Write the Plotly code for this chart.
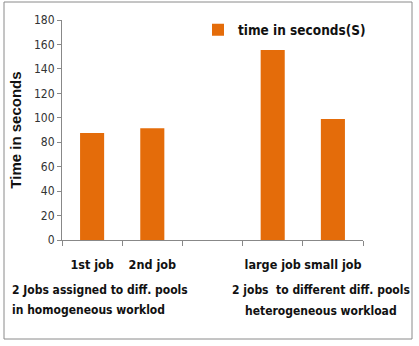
import plotly.graph_objects as go

categories = ["1st job", "2nd job", " ", "large job", "small job"]
times = [87.5, 91.5, None, 155.5, 99]
series_name = "time in seconds(S)"
y_ticks = [0, 20, 40, 60, 80, 100, 120, 140, 160, 180]
left_note = ["2 Jobs assigned to diff. pools", "in homogeneous worklod"]
right_note = ["2 jobs  to different diff. pools", "heterogeneous workload"]

W, H = 419, 346
L, R, T, B = 62, 56, 20, 106
pw, ph = W - L - R, H - T - B

def px_x(px):
    return (px - L) / pw

def px_y(py):
    return (H - B - py) / ph

fig = go.Figure()
fig.add_trace(go.Bar(
    x=categories, y=times, name=series_name,
    marker=dict(color="#E46C0A", line=dict(width=0)),
    width=0.4, showlegend=True,
))

cond = "DejaVu Sans Condensed, Liberation Sans Narrow, Arial Narrow, sans-serif"

fig.update_layout(
    width=W, height=H,
    margin=dict(l=L, r=R, t=T, b=B),
    paper_bgcolor="white", plot_bgcolor="white",
    showlegend=True,
    legend=dict(
        x=px_x(198), y=px_y(30), xanchor="left", yanchor="middle",
        font=dict(family=cond, size=13.5, color="#111", weight="bold"),
        bgcolor="rgba(0,0,0,0)", itemwidth=30,
    ),
    xaxis=dict(
        type="category", categoryorder="array", categoryarray=categories,
        showline=True, linecolor="#888", linewidth=1,
        ticks="outside", ticklen=5, tickcolor="#888", tickson="boundaries",
        tickangle=0, ticklabelstandoff=13,
        tickfont=dict(family=cond, size=12.5, color="#111", weight="bold"),
        showgrid=False, fixedrange=True,
    ),
    yaxis=dict(
        range=[0, 180], tickvals=y_ticks,
        showline=True, linecolor="#888", linewidth=1,
        ticks="outside", ticklen=4, tickcolor="#888",
        tickfont=dict(family="DejaVu Sans Condensed, Tahoma, Arial", size=12, color="#333"),
        showgrid=False, zeroline=False,
        title=dict(text="<b>Time in seconds</b>",
                   font=dict(family="Liberation Sans, Arial", size=15, color="#111"),
                   standoff=8),
    ),
    bargap=0.6,
)

note_font = dict(family=cond, size=12, color="#111", weight="bold")
for i, line in enumerate(left_note):
    fig.add_annotation(
        xref="paper", yref="paper", x=px_x(10), y=px_y(290 + 20 * i),
        xanchor="left", yanchor="middle", showarrow=False,
        text=line, font=note_font,
    )
for i, line in enumerate(right_note):
    fig.add_annotation(
        xref="paper", yref="paper", x=px_x(321), y=px_y(290 + 21 * i),
        xanchor="center", yanchor="middle", showarrow=False,
        text=line.replace("  ", "&nbsp; "), font=note_font,
    )

fig.add_shape(
    type="rect", xref="paper", yref="paper",
    x0=px_x(4), x1=px_x(412), y0=px_y(339), y1=px_y(2),
    line=dict(color="#8a8a8a", width=1), fillcolor="rgba(0,0,0,0)", layer="below",
)

fig.write_html("out.html", config={"displayModeBar": False},
               post_script="document.body.style.margin='0';document.body.style.padding='0';")
